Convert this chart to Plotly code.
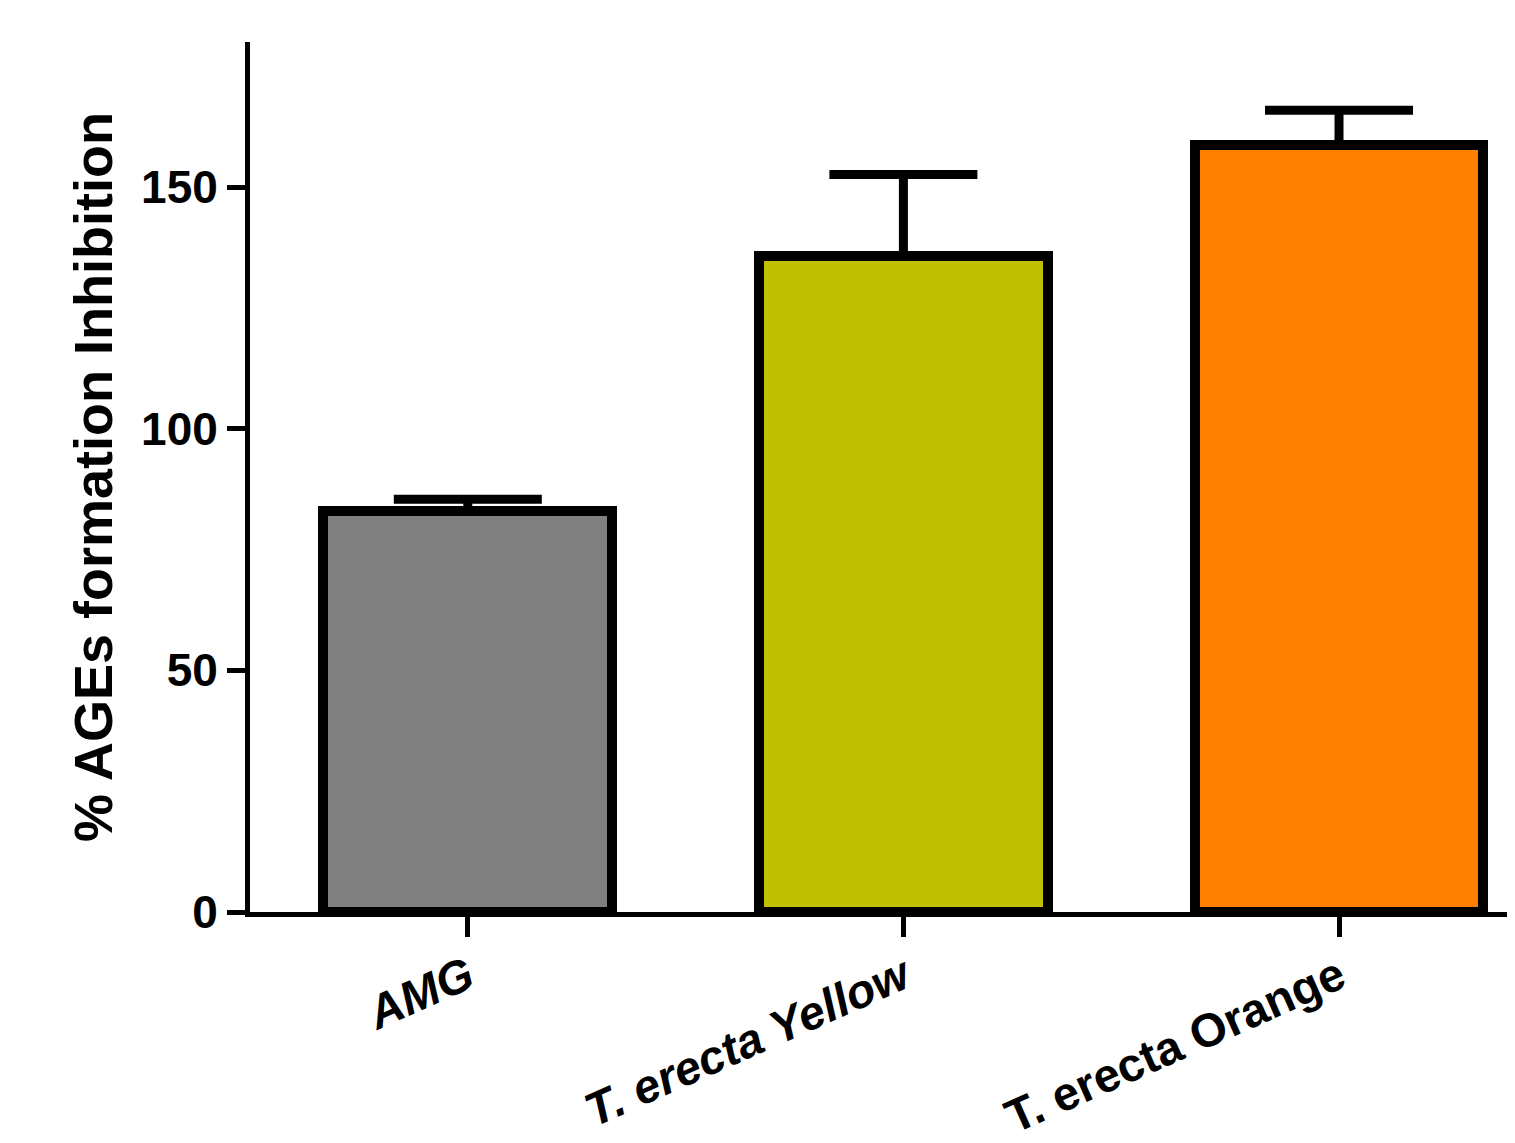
import plotly.graph_objects as go

categories = ["AMG", "T. erecta Yellow", "T. erecta Orange"]
tick_labels = ["<i>AMG</i>", "<i>T. erecta Yellow</i>", "T. erecta Orange"]
values = [82.9, 135.7, 158.6]
errors_up = [2.5, 16.9, 7.3]
bar_colors = ["#808080", "#C0C000", "#FF8000"]
y_ticks = [0, 50, 100, 150]

fig = go.Figure()
fig.add_trace(go.Bar(
    x=list(range(len(categories))),
    y=values,
    width=0.663,
    marker=dict(color=bar_colors, line=dict(color="black", width=10)),
    error_y=dict(type="data", symmetric=False, array=errors_up,
                 arrayminus=[0] * len(values),
                 color="black", thickness=9, width=74),
))

font_family = "Liberation Sans, Arial, sans-serif"
fig.update_layout(
    width=1507, height=1135,
    margin=dict(l=242, r=0, t=34, b=231),
    paper_bgcolor="white", plot_bgcolor="white",
    showlegend=False,
    font=dict(family=font_family, color="black"),
    bargap=0,
)
fig.update_xaxes(
    range=[-0.5, 2.404],
    tickmode="array", tickvals=list(range(len(categories))), ticktext=tick_labels,
    tickangle=-24,
    tickfont=dict(family=font_family, size=47, color="black", weight="bold"),
    ticklabelstandoff=-6,
    showline=True, linecolor="black", linewidth=5,
    ticks="outside", ticklen=20, tickwidth=5, tickcolor="black",
    showgrid=False, zeroline=False, automargin=False,
)
fig.update_yaxes(
    range=[0, 180],
    tickmode="array", tickvals=y_ticks,
    tickfont=dict(family=font_family, size=46, color="black", weight="bold"),
    showline=True, linecolor="black", linewidth=5,
    ticks="outside", ticklen=18, tickwidth=5, tickcolor="black",
    showgrid=False, zeroline=False, automargin=False,
    title=dict(text="% AGEs formation Inhibition",
               font=dict(family=font_family, size=54, color="black", weight="bold"),
               standoff=13),
)

fig.write_html("out.html")
